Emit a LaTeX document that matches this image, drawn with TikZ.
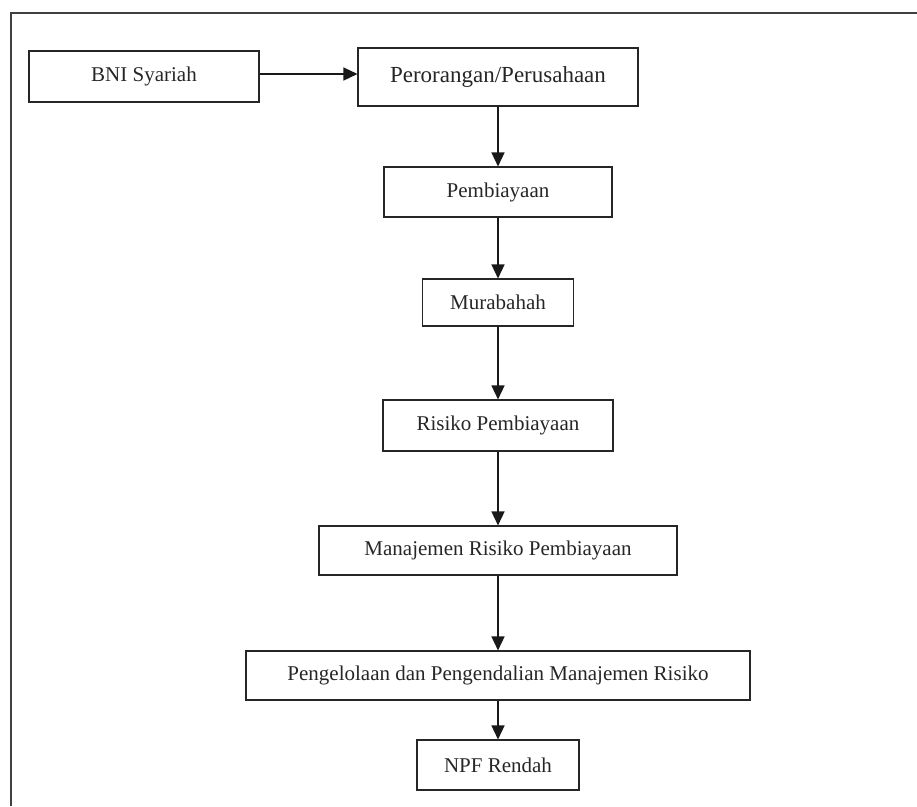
\documentclass[tikz,border=0pt]{standalone}
\usepackage{fontspec}
\setmainfont{Liberation Serif}
\usetikzlibrary{arrows.meta}
\begin{document}
\begin{tikzpicture}[x=1pt,y=-1pt,
  box/.style={draw=black!85, line width=1.1pt, inner sep=0pt, align=center,
    font=\fontsize{21}{25}\selectfont, text=black!85},
  link/.style={draw=black!90, line width=1.4pt, -{Triangle[width=13pt,length=14pt]}},
  frame/.style={draw=black!75, line width=1.2pt}]
\useasboundingbox (0,0) rectangle (917,806);
\draw[frame] (11,806) -- (11,13) -- (917,13);
\node[box, minimum width=230pt, minimum height=51pt] (bni) at (144,76.5) {BNI Syariah};
\node[box, minimum width=280pt, minimum height=58pt, font=\fontsize{23}{27}\selectfont] (per) at (498,77) {Perorangan/Perusahaan};
\node[box, minimum width=228pt, minimum height=50pt] (pem) at (498,192) {Pembiayaan};
\node[box, minimum width=151pt, minimum height=47pt] (mur) at (498,302.5) {Murabahah};
\node[box, minimum width=230pt, minimum height=51pt] (ris) at (498,425.5) {Risiko Pembiayaan};
\node[box, minimum width=358pt, minimum height=49pt] (man) at (498,550.5) {Manajemen Risiko Pembiayaan};
\node[box, minimum width=504pt, minimum height=49pt] (pen) at (498,675.5) {Pengelolaan dan Pengendalian Manajemen Risiko};
\node[box, minimum width=162pt, minimum height=50pt] (npf) at (498,765) {NPF Rendah};
\draw[link] (bni.east |- 0,74) -- (per.west |- 0,74);
\draw[link] (per) -- (pem);
\draw[link] (pem) -- (mur);
\draw[link] (mur) -- (ris);
\draw[link] (ris) -- (man);
\draw[link] (man) -- (pen);
\draw[link] (pen) -- (npf);
\end{tikzpicture}
\end{document}
